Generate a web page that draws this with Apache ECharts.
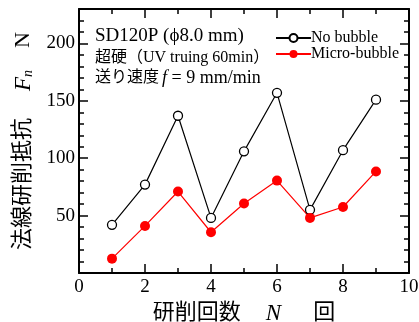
<!DOCTYPE html>
<html><head><meta charset="utf-8">
<script src="https://cdn.jsdelivr.net/npm/echarts@6/dist/echarts.min.js"></script>
<style>html,body{margin:0;padding:0;background:#fff}#c{width:419px;height:322px}</style>
</head><body><div id="c"></div>
<script>
const runs = [1,2,3,4,5,6,7,8,9];
const noBubble = [42,77,137,48,106,157,55,107,151];
const microBubble = [12.5,41,71,35.5,60.5,80.5,48,57.5,88.5];
const xTicks = [0,2,4,6,8,10];
const yTicks = [50,100,150,200];

const serif = '"Liberation Serif","Times New Roman",serif';
const cjk = '"Liberation Serif","Noto Sans CJK JP",serif';
const chart = echarts.init(document.getElementById('c'), null, {renderer:'canvas'});
const axisLine = {show:true, onZero:false, lineStyle:{color:'#000', width:2}};
const majT = {show:true, inside:true, length:9, lineStyle:{color:'#000', width:1.5}};
chart.setOption({
  animation:false,
  backgroundColor:'#fff',
  grid:{left:79, right:10, top:9, bottom:49, containLabel:false, outerBoundsMode:'none'},
  legend:{
    left:275, top:30, orient:'vertical', padding:0, itemGap:0, itemWidth:35, itemHeight:10,
    textStyle:{fontFamily:serif, fontSize:16, lineHeight:15, color:'#000', padding:[0,0,0,-5]},
    data:['No bubble','Micro-bubble']
  },
  xAxis:[{
    type:'value', min:0, max:10, interval:2,
    axisLine:axisLine, axisTick:majT,
    minorTick:{show:true, splitNumber:2, length:5, lineStyle:{color:'#000', width:1.5}},
    splitLine:{show:false},
    axisLabel:{fontFamily:serif, fontSize:19, color:'#000', margin:5,
      formatter:v=>xTicks.includes(v)?String(v):''},
    name:'{a|研削回数}{n|N}{b|回}', nameLocation:'middle', nameGap:29,
    nameTextStyle:{fontFamily:cjk, fontSize:22, color:'#000',
      rich:{a:{fontFamily:cjk, fontSize:22, color:'#000'},
            n:{fontFamily:serif, fontStyle:'italic', fontSize:23, color:'#000', padding:[0,32,0,25]},
            b:{fontFamily:cjk, fontSize:22, color:'#000'}}}
  },{
    type:'value', min:0, max:10, interval:2, position:'top',
    axisLine:axisLine, axisTick:majT,
    minorTick:{show:true, splitNumber:2, length:5, lineStyle:{color:'#000', width:1.5}},
    splitLine:{show:false}, axisLabel:{show:false}
  }],
  yAxis:[{
    type:'value', min:0, max:230, interval:50,
    axisLine:axisLine, axisTick:majT,
    minorTick:{show:true, splitNumber:5, length:5, lineStyle:{color:'#000', width:1.5}},
    splitLine:{show:false},
    axisLabel:{fontFamily:serif, fontSize:19, color:'#000', margin:4,
      formatter:v=>yTicks.includes(v)?String(v):''},
    name:'{a|法線研削抵抗}{f|F}{s|n}{b|N}', nameLocation:'middle', nameRotate:90, nameGap:43,
    nameTextStyle:{fontFamily:cjk, fontSize:22, color:'#000',
      rich:{a:{fontFamily:cjk, fontSize:22, color:'#000', padding:[0,27,0,0]},
            f:{fontFamily:serif, fontStyle:'italic', fontSize:23, color:'#000'},
            s:{fontFamily:serif, fontStyle:'italic', fontSize:14, color:'#000', verticalAlign:'bottom', padding:[10,0,0,0]},
            b:{fontFamily:serif, fontSize:22, color:'#000', padding:[0,0,0,22]}}}
  },{
    type:'value', min:0, max:230, interval:50, position:'right',
    axisLine:axisLine, axisTick:majT,
    minorTick:{show:true, splitNumber:5, length:5, lineStyle:{color:'#000', width:1.5}},
    splitLine:{show:false}, axisLabel:{show:false}
  }],
  graphic:[
    {type:'text', left:95, top:27, style:{text:'SD120P (ϕ8.0 mm)', font:'19px '+serif, fill:'#000'}},
    {type:'text', left:95, top:50, style:{text:'超硬（UV truing 60min）', font:'16px '+cjk, fill:'#000'}},
    {type:'text', left:95, top:69, style:{text:'{c|送り速度}{i|f}{t| = 9 mm/min}', font:'16px '+cjk, fill:'#000',
      rich:{c:{fontFamily:cjk, fontSize:16, fill:'#000'},
            i:{fontFamily:serif, fontStyle:'italic', fontSize:18, fill:'#000', padding:[0,0,0,3]},
            t:{fontFamily:serif, fontSize:18, fill:'#000'}}}}
  ],
  series:[
    {name:'No bubble', type:'line', data:runs.map((x,i)=>[x,noBubble[i]]),
      symbol:'circle', symbolSize:9, color:'#000',
      lineStyle:{color:'#000', width:1.2},
      itemStyle:{color:'#fff', borderColor:'#000', borderWidth:1.3}},
    {name:'Micro-bubble', type:'line', data:runs.map((x,i)=>[x,microBubble[i]]),
      symbol:'circle', symbolSize:10, color:'#ff0000',
      lineStyle:{color:'#ff0000', width:1.2},
      itemStyle:{color:'#ff0000', borderColor:'#ff0000', borderWidth:0}}
  ]
});
</script></body></html>
